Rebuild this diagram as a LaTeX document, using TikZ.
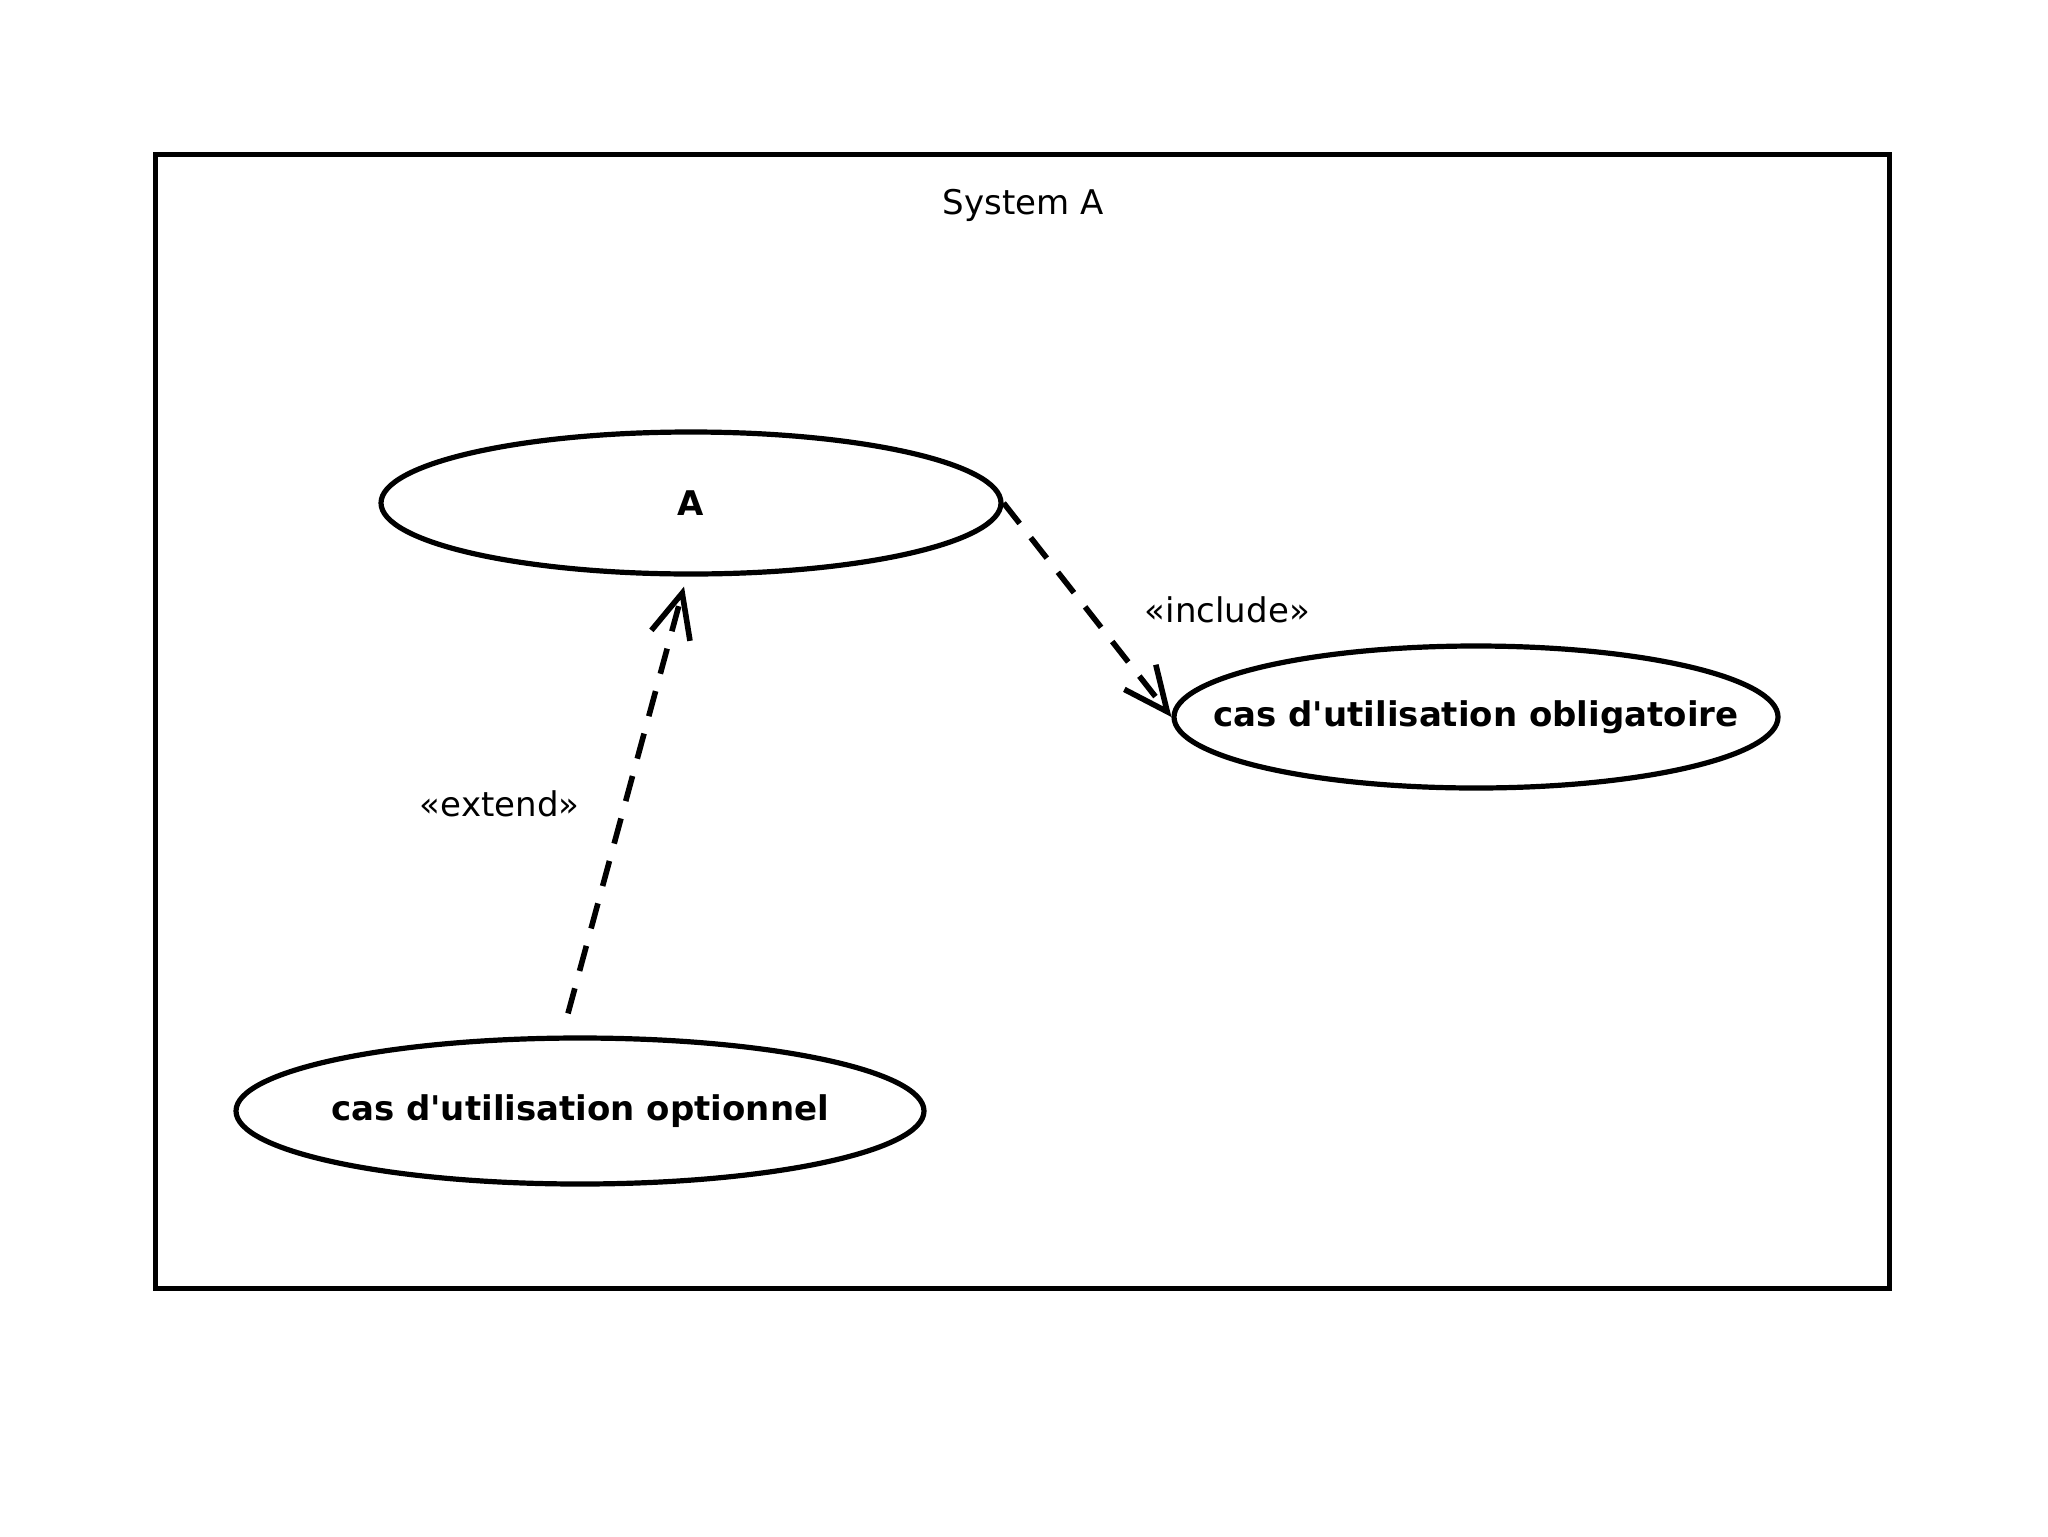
\documentclass[tikz,border=0pt]{standalone}
\usepackage{fontspec}
\setmainfont{DejaVu Sans}
\usetikzlibrary{arrows.meta,positioning,shapes.geometric}

\begin{document}
\begin{tikzpicture}[
    x=0.5pt, y=-0.5pt,
    usecase/.style={ellipse, draw, line width=2.6pt, inner sep=0pt, font=\fontsize{17}{20}\selectfont\bfseries},
    relation/.style={draw, line width=2.8pt, dash pattern=on 13pt off 9pt, -{Straight Barb[length=22pt,width=20pt]}},
    stereo/.style={font=\fontsize{17}{20}\selectfont}
    ]

    \useasboundingbox (0,0) rectangle (2048,1536);

    % System boundary and its name
    \node[draw, line width=2.6pt, minimum width=867pt, minimum height=567pt] (system) at (1022.5,721.5) {};
    \node[stereo] (systemlabel) at (1023,205) {System A};

    % Use cases
    \node[usecase, minimum width=310pt, minimum height=71pt] (usecaseA) at (691,503) {A};
    \node[usecase, inner xsep=-25pt, minimum width=302pt, minimum height=71pt] (mandatory) at (1476,717) {cas d\textquotesingle utilisation obligatoire};
    \node[usecase, inner xsep=-4pt, minimum width=344pt, minimum height=73pt] (optional) at (580,1111) {cas d\textquotesingle utilisation optionnel};

    % include: A -> mandatory
    \draw[relation] (usecaseA.east) -- node[stereo, pos=0.5, right=24pt] (includelabel) {«include»} (mandatory.west);

    % extend: optional -> A
    \draw[relation] ([xshift=-6pt,yshift=11pt]optional.north) -- node[stereo, pos=0.49, left=18pt] (extendlabel) {«extend»} ([xshift=-3.5pt,yshift=-5pt]usecaseA.south);

\end{tikzpicture}
\end{document}
